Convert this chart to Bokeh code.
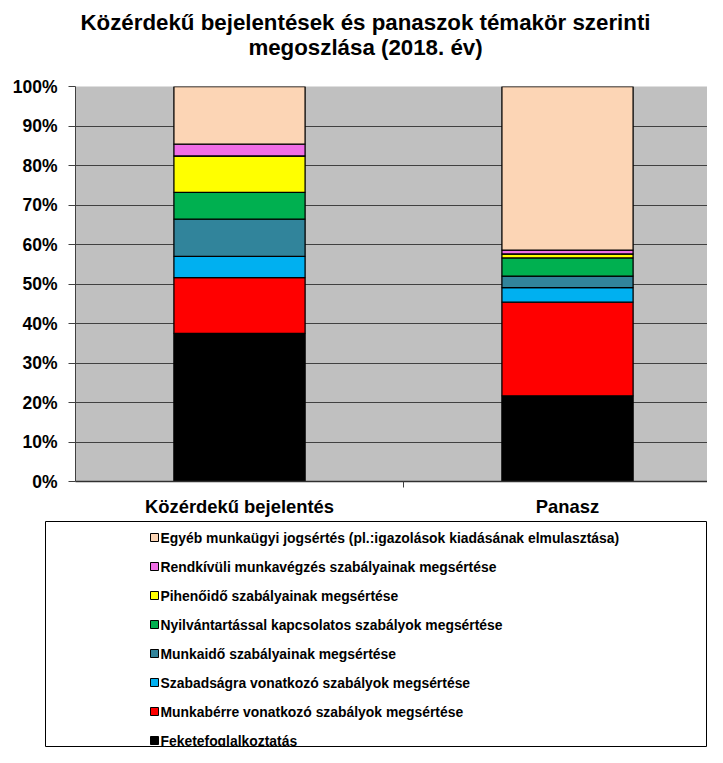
from bokeh.plotting import figure
from bokeh.layouts import column
from bokeh.models import Range1d, FixedTicker, PrintfTickFormatter, ColumnDataSource
from bokeh.core.properties import value
from bokeh.embed import file_html
from bokeh.resources import INLINE

title_lines = ["Közérdekű bejelentések és panaszok témakör szerinti",
               "megoszlása (2018. év)"]
categories = ["Közérdekű bejelentés", "Panasz"]
series = [
    "Feketefoglalkoztatás",
    "Munkabérre vonatkozó szabályok megsértése",
    "Szabadságra vonatkozó szabályok megsértése",
    "Munkaidő szabályainak megsértése",
    "Nyilvántartással kapcsolatos szabályok megsértése",
    "Pihenőidő szabályainak megsértése",
    "Rendkívüli munkavégzés szabályainak megsértése",
    "Egyéb munkaügyi jogsértés (pl.:igazolások kiadásának elmulasztása)",
]
colors = ["#000000", "#FF0000", "#00B0F0", "#31849B", "#00B050", "#FFFF00", "#F06EE6", "#FCD5B5"]

feketefoglalkoztatas = [37.5, 21.7]
munkaber = [14.1, 23.7]
szabadsag = [5.4, 3.7]
munkaido = [9.4, 2.9]
nyilvantartas = [6.8, 4.6]
pihenoido = [9.2, 1.0]
rendkivuli = [3.0, 1.0]
egyeb = [14.6, 41.4]

y_ticks = list(range(0, 101, 10))

FONT_NAME = "Liberation Sans"
FONT = value(FONT_NAME)

# ---- title figure ----
pt = figure(width=707, height=74, x_range=Range1d(0, 707), y_range=Range1d(74, 0),
            output_backend="svg", toolbar_location=None,
            x_axis_location=None, y_axis_location=None,
            min_border=0, outline_line_color=None)
pt.frame_align = False
pt.grid.visible = False
pt.text(x=[365, 365], y=[22, 47], text=title_lines, text_font=FONT,
        text_font_style="bold", text_font_size="22.3px", text_align="center",
        text_baseline="middle", text_color="black")

# ---- chart figure ----
keys = ["s%d" % i for i in range(len(series))]
data = dict(x=list(range(len(categories))))
for k, vals in zip(keys, [feketefoglalkoztatas, munkaber, szabadsag, munkaido,
                          nyilvantartas, pihenoido, rendkivuli, egyeb]):
    data[k] = vals
source = ColumnDataSource(data)

p = figure(width=707, height=447, x_range=Range1d(-0.5, 1.4268), y_range=Range1d(0, 100),
           output_backend="svg", toolbar_location=None,
           min_border_left=75, min_border_right=0, min_border_top=12, min_border_bottom=40,
           background_fill_color="#C0C0C0", border_fill_color="white",
           outline_line_color=None)
p.frame_align = False
p.vbar_stack(keys, x="x", width=0.4, color=colors, line_color="black",
             line_width=1.3, source=source)

p.xgrid.visible = False
p.ygrid.grid_line_color = "#404040"
p.ygrid.grid_line_width = 1
p.yaxis.ticker = FixedTicker(ticks=y_ticks)
p.ygrid.ticker = FixedTicker(ticks=y_ticks)
p.yaxis.formatter = PrintfTickFormatter(format="%d%%")
p.yaxis.major_tick_out = 7
p.yaxis.major_tick_in = 0
p.yaxis.minor_tick_out = 0
p.yaxis.minor_tick_in = 0
p.yaxis.major_label_standoff = 11
p.yaxis.axis_line_color = "#404040"
p.yaxis.major_tick_line_color = "#404040"

p.xaxis.ticker = FixedTicker(ticks=[0, 1], minor_ticks=[0.5])
p.xaxis.major_label_overrides = {0: categories[0], 1: categories[1]}
p.xaxis.major_tick_out = 0
p.xaxis.major_tick_in = 0
p.xaxis.minor_tick_out = 6
p.xaxis.minor_tick_in = 0
p.xaxis.minor_tick_line_color = "#404040"
p.xaxis.major_label_standoff = 8
p.xaxis.axis_line_color = "#303030"
p.xaxis.axis_line_width = 1.5

for ax, size in ((p.xaxis, "18.4px"), (p.yaxis, "17.5px")):
    ax.major_label_text_font = FONT_NAME
    ax.major_label_text_font_style = "bold"
    ax.major_label_text_font_size = size
    ax.major_label_text_color = "black"

# ---- legend figure ----
leg_labels = list(reversed(series))
leg_colors = list(reversed(colors))
leg_y = [16 + 29 * i for i in range(len(leg_labels))]
pl = figure(width=707, height=226, x_range=Range1d(0, 662), y_range=Range1d(226, 0),
            output_backend="svg", toolbar_location=None,
            x_axis_location=None, y_axis_location=None,
            min_border_left=45, min_border_right=0, min_border_top=0, min_border_bottom=0,
            outline_line_color="black", outline_line_width=1)
pl.frame_align = False
pl.grid.visible = False
pl.scatter(x=[109] * len(leg_labels), y=leg_y, marker="square", size=8,
           fill_color=leg_colors, line_color="black", line_width=1)
pl.text(x=[115] * len(leg_labels), y=leg_y, text=leg_labels, text_font=FONT,
        text_font_style="bold", text_font_size="13.9px", text_align="left",
        text_baseline="middle", text_color="black")

layout = column(pt, p, pl, spacing=0)
open("out.html", "w").write(file_html(layout, INLINE))
